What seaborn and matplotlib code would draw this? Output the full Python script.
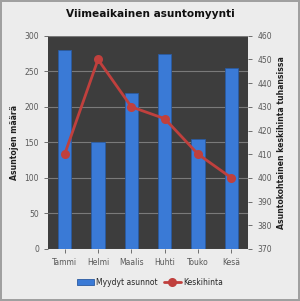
import matplotlib
matplotlib.use("Agg")
import matplotlib.pyplot as plt
import seaborn as sns
import pandas as pd

# Data
months = ["Tammi", "Helmi", "Maalis", "Huhti", "Touko", "Kesä"]
sold_homes = [280, 150, 220, 275, 155, 255]
avg_price = [410, 450, 430, 425, 410, 400]

sns.set_theme(style="dark")
plt.rcParams["font.family"] = ["DejaVu Sans"]

df = pd.DataFrame({"Kuukausi": months, "Myydyt asunnot": sold_homes, "Keskihinta": avg_price})

fig = plt.figure(figsize=(3.0, 3.01), dpi=100)
fig.patch.set_facecolor("#ececec")
fig.patch.set_edgecolor("#a0a0a0")
fig.patch.set_linewidth(1.5)

ax1 = fig.add_axes([0.16, 0.173, 0.667, 0.708])
ax1.set_facecolor("#3d3d3d")

sns.barplot(data=df, x="Kuukausi", y="Myydyt asunnot", ax=ax1, color="#3a7ad6",
            width=0.4, saturation=1, edgecolor="#2a5aa0", linewidth=0.6,
            label="Myydyt asunnot", legend=False)
ax1.set_ylim(0, 300)
ax1.set_yticks(range(0, 301, 50))
ax1.set_xlim(-0.5, 5.5)
ax1.yaxis.grid(True, color="#7a7a7a", linewidth=0.8)
ax1.set_axisbelow(True)
ax1.set_xlabel("")
ax1.set_ylabel("Asuntojen määrä", fontsize=5.6, fontweight="bold", color="#202020")
ax1.tick_params(axis="both", labelsize=5.5, colors="#595959", length=3, width=0.6)
ax1.tick_params(axis="both", bottom=True, left=True)

ax2 = ax1.twinx()
sns.pointplot(data=df, x="Kuukausi", y="Keskihinta", ax=ax2, color="#c0403d",
              markers="o", markersize=5, linewidth=2, label="Keskihinta")
ax2.set_ylim(370, 460)
ax2.set_yticks(range(370, 461, 10))
ax2.set_xlim(-0.5, 5.5)
ax2.set_ylabel("Asuntokohtainen keskihinta tuhansissa", fontsize=5.6, fontweight="bold", color="#202020")
ax2.tick_params(axis="y", labelsize=5.5, colors="#595959", length=3, width=0.6, right=True)
ax2.grid(False)

for ax in (ax1, ax2):
    for s in ax.spines.values():
        s.set_visible(False)

fig.suptitle("Viimeaikainen asuntomyynti", fontsize=7.6, fontweight="bold", y=0.97, color="#101010")

h1, l1 = ax1.get_legend_handles_labels()
h2, l2 = ax2.get_legend_handles_labels()
if ax2.get_legend() is not None:
    ax2.get_legend().remove()
fig.legend(h1 + h2, l1 + l2, loc="lower center", bbox_to_anchor=(0.5, 0.025), ncol=2,
           frameon=False, fontsize=5.5, handlelength=2.2, columnspacing=0.8, handletextpad=0.3)

fig.savefig("out.png", dpi=100, facecolor=fig.get_facecolor(), edgecolor=fig.get_edgecolor())
